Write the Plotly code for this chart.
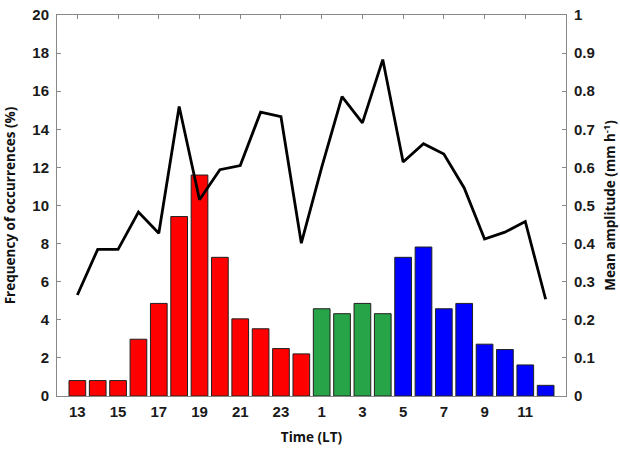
import plotly.graph_objects as go

hours = [13, 14, 15, 16, 17, 18, 19, 20, 21, 22, 23, 24,
         1, 2, 3, 4, 5, 6, 7, 8, 9, 10, 11, 12]
freq = [0.81, 0.81, 0.81, 2.98, 4.86, 9.42, 11.6, 7.28, 4.05, 3.53, 2.49, 2.21,
        4.58, 4.32, 4.86, 4.32, 7.28, 7.82, 4.58, 4.86, 2.72, 2.44, 1.63, 0.56]
amp = [0.265, 0.385, 0.385, 0.483, 0.427, 0.76, 0.515, 0.594, 0.605, 0.745, 0.733, 0.401,
       0.60, 0.786, 0.717, 0.883, 0.614, 0.662, 0.635, 0.546, 0.412, 0.43, 0.458, 0.254]
period_colors = ["#FF0000"] * 12 + ["#27A348"] * 4 + ["#0000FF"] * 8
tick_hours = [13, 15, 17, 19, 21, 23, 1, 3, 5, 7, 9, 11]

pos = list(range(1, len(hours) + 1))
tickvals = [pos[hours.index(h)] for h in tick_hours]

fig = go.Figure()
fig.add_trace(go.Bar(x=pos, y=freq, marker=dict(color=period_colors,
                     line=dict(color="#202020", width=1)), width=0.82,
                     yaxis="y", showlegend=False))
fig.add_trace(go.Scatter(x=pos, y=amp, mode="lines", line=dict(color="black", width=2.8),
                         yaxis="y2", showlegend=False))

tickfont = dict(family="Liberation Sans, Arial", size=15, color="#1a1a1a", weight="bold")
titlefont = dict(family="Open Sans", size=13.5, color="#111111", weight="bold")
axcol = "#888888"

fig.update_layout(
    width=620, height=450,
    margin=dict(l=57, r=54, t=15, b=54),
    plot_bgcolor="white", paper_bgcolor="white",
    xaxis=dict(range=[0, 25], tickvals=tickvals, ticktext=[str(h) for h in tick_hours],
               showgrid=False, zeroline=False, showline=True, linecolor=axcol, linewidth=1,
               mirror="ticks", ticks="inside", ticklen=4, tickcolor=axcol,
               layer="below traces", tickfont=tickfont, ticklabelstandoff=2,
               automargin=False,
               title=dict(text="Time (LT)", font=titlefont, standoff=13)),
    yaxis=dict(range=[0, 20], dtick=2, showgrid=False, zeroline=False, showline=True,
               linecolor=axcol, linewidth=1, ticks="inside", ticklen=4, tickcolor=axcol,
               tickfont=tickfont, ticklabelstandoff=4, automargin=False,
               title=dict(text="Frequency of occurrences (%)", font=titlefont, standoff=13)),
    yaxis2=dict(range=[0, 1], dtick=0.1, overlaying="y", side="right", showgrid=False,
                zeroline=False, showline=True, linecolor=axcol, linewidth=1,
                ticks="inside", ticklen=4, tickcolor=axcol, tickfont=tickfont,
                ticklabelstandoff=4, automargin=False,
                title=dict(text="Mean amplitude (mm h<sup>-1</sup>)", font=titlefont, standoff=11)),
    bargap=0.18,
)

fig.write_html("out.html")
